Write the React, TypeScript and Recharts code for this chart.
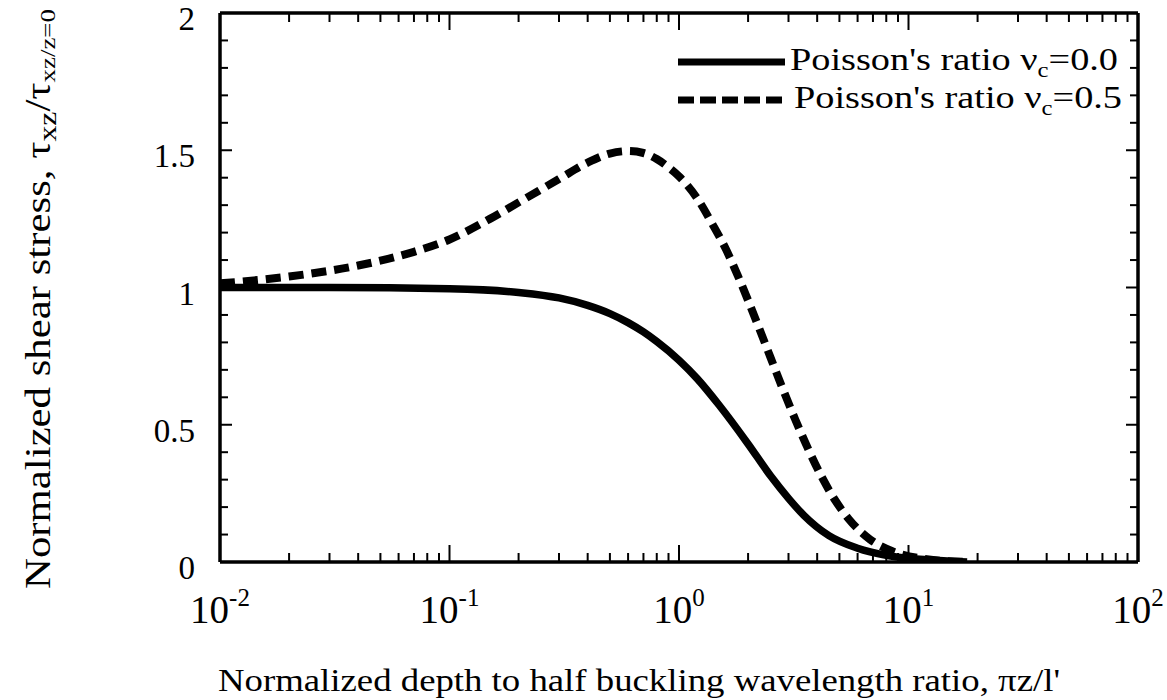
import React from "react";
import { LineChart, Line, XAxis, YAxis, Legend } from "recharts";

// nu_c = 0.0 (solid)
const solidX = [0.01, 0.03, 0.1, 0.2, 0.3, 0.4, 0.5, 0.6, 0.7, 0.8, 1.0, 1.2, 1.5, 2.0, 2.5, 3.0, 3.5, 4.5, 6.0, 8.0, 12, 18];
const solidY = [1.0, 1.0, 0.995, 0.982, 0.962, 0.935, 0.905, 0.872, 0.838, 0.803, 0.735, 0.668, 0.57, 0.43, 0.315, 0.232, 0.17, 0.096, 0.05, 0.024, 0.008, 0.0];

// nu_c = 0.5 (dashed)
const dashX = [0.01, 0.02, 0.04, 0.07, 0.1, 0.15, 0.2, 0.3, 0.4, 0.5, 0.6, 0.7, 0.8, 0.9, 1.0, 1.2, 1.4, 1.6, 1.8, 2.0, 2.2, 2.5, 2.8, 3.2, 3.7, 4.2, 4.8, 5.5, 6.8, 8.4, 12, 18];
const dashY = [1.015, 1.04, 1.08, 1.13, 1.175, 1.25, 1.31, 1.395, 1.455, 1.488, 1.497, 1.49, 1.468, 1.438, 1.405, 1.325, 1.23, 1.14, 1.045, 0.953, 0.866, 0.747, 0.641, 0.522, 0.402, 0.308, 0.224, 0.156, 0.082, 0.041, 0.01, 0.0];

const decades = [0.01, 0.1, 1, 10, 100];
const decadeLabels = ["-2", "-1", "0", "1", "2"];
const minorSteps = [2, 3, 4, 5, 6, 7, 8, 9];

const yTicks = [0, 0.1, 0.2, 0.3, 0.4, 0.5, 0.6, 0.7, 0.8, 0.9, 1, 1.1, 1.2, 1.3, 1.4, 1.5, 1.6, 1.7, 1.8, 1.9, 2];
const yMajor = [0, 0.5, 1, 1.5, 2];
const yLabels = ["0", "0.5", "1", "1.5", "2"];

const legendValues = ["0.0", "0.5"];
const legendDashes = [undefined, "16 6"];

const solidData = solidX.map((x, i) => ({ x, y: solidY[i] }));
const dashData = dashX.map((x, i) => ({ x, y: dashY[i] }));
const xTicks = decades.flatMap((d, i) =>
  i < decades.length - 1 ? [d, ...minorSteps.map((m) => d * m)] : [d]
);

const FONT = "'Liberation Serif', 'Times New Roman', serif";

const decadeIndex = (v: number) =>
  decades.findIndex((d) => Math.abs(d - v) < d * 1e-6);
const yIndex = (v: number) => yMajor.findIndex((m) => Math.abs(m - v) < 1e-6);

const BottomTick = (props: any) => {
  const { x, y, payload } = props;
  const i = decadeIndex(payload.value);
  return (
    <g>
      <line x1={x} x2={x} y1={y} y2={y - (i >= 0 ? 17 : 9)} stroke="#000" strokeWidth={2} />
      {i >= 0 && (
        <text x={x} y={y + 61} textAnchor="middle" fontFamily={FONT} fontSize={39} fill="#000">
          10
          <tspan dy={-17} fontSize={25}>
            {decadeLabels[i]}
          </tspan>
        </text>
      )}
    </g>
  );
};

const TopTick = (props: any) => {
  const { x, y, payload } = props;
  const i = decadeIndex(payload.value);
  return <line x1={x} x2={x} y1={y} y2={y + (i >= 0 ? 17 : 9)} stroke="#000" strokeWidth={2} />;
};

const LeftTick = (props: any) => {
  const { x, y, payload } = props;
  const i = yIndex(payload.value);
  return (
    <g>
      <line x1={x} x2={x + (i >= 0 ? 12 : 8)} y1={y} y2={y} stroke="#000" strokeWidth={2} />
      {i >= 0 && (
        <text x={x - 25} y={y + 17} textAnchor="end" fontFamily={FONT} fontSize={33} fill="#000">
          {yLabels[i]}
        </text>
      )}
    </g>
  );
};

const RightTick = (props: any) => {
  const { x, y, payload } = props;
  const i = yIndex(payload.value);
  return <line x1={x} x2={x - (i >= 0 ? 12 : 8)} y1={y} y2={y} stroke="#000" strokeWidth={2} />;
};

const renderLegend = () => (
  <svg width={480} height={90}>
    {legendValues.map((v, i) => {
      const ly = 27 + i * 38;
      return (
        <g key={v}>
          <line x1={8} x2={115} y1={ly} y2={ly} stroke="#000" strokeWidth={7} strokeDasharray={legendDashes[i]} />
          <text
            x={120 + i * 4}
            y={ly + 8}
            fontFamily={FONT}
            fontSize={31}
            fill="#000"
            textLength={328}
            lengthAdjust="spacingAndGlyphs"
          >
            Poisson's ratio ν
            <tspan dy={7} fontSize={20}>c</tspan>
            <tspan dy={-7}>={v}</tspan>
          </text>
        </g>
      );
    })}
  </svg>
);

const axisLine = { stroke: "#000", strokeWidth: 3.5 };

export default function App() {
  return (
    <div style={{ position: "absolute", left: 0, top: 0, background: "#fff" }}>
      <LineChart width={1167} height={700} margin={{ top: 0, right: 0, bottom: 0, left: 0 }}>
        <XAxis
          dataKey="x"
          type="number"
          scale="log"
          domain={[0.01, 100]}
          allowDataOverflow
          ticks={xTicks}
          interval={0}
          height={138}
          tickSize={0}
          tickMargin={0}
          tickLine={false}
          axisLine={axisLine}
          tick={<BottomTick />}
        />
        <XAxis
          xAxisId="top"
          orientation="top"
          dataKey="x"
          type="number"
          scale="log"
          domain={[0.01, 100]}
          allowDataOverflow
          ticks={xTicks}
          interval={0}
          height={13}
          tickSize={0}
          tickMargin={0}
          tickLine={false}
          axisLine={axisLine}
          tick={<TopTick />}
        />
        <YAxis
          type="number"
          domain={[0, 2]}
          allowDataOverflow
          ticks={yTicks}
          interval={0}
          width={220}
          tickSize={0}
          tickMargin={0}
          tickLine={false}
          axisLine={axisLine}
          tick={<LeftTick />}
        />
        <YAxis
          yAxisId="right"
          orientation="right"
          type="number"
          domain={[0, 2]}
          allowDataOverflow
          ticks={yTicks}
          interval={0}
          width={29}
          tickSize={0}
          tickMargin={0}
          tickLine={false}
          axisLine={axisLine}
          tick={<RightTick />}
        />
        <Legend
          layout="horizontal"
          verticalAlign="middle"
          align="center"
          content={renderLegend}
          wrapperStyle={{ top: 35, left: 670, width: 480, height: 90 }}
        />
        <Line
          data={solidData}
          dataKey="y"
          type="monotone"
          stroke="#000"
          strokeWidth={7.5}
          dot={false}
          isAnimationActive={false}
        />
        <Line
          data={dashData}
          dataKey="y"
          type="monotone"
          stroke="#000"
          strokeWidth={8}
          strokeDasharray="15 8"
          dot={false}
          isAnimationActive={false}
        />
        <text
          x={38}
          y={299}
          transform="rotate(-90, 38, 299)"
          textAnchor="middle"
          dominantBaseline="central"
          fontFamily={FONT}
          fontSize={35}
          fill="#000"
          textLength={580}
          lengthAdjust="spacingAndGlyphs"
        >
          Normalized shear stress,  τ
          <tspan dy={9} fontSize={26}>xz</tspan>
          <tspan dy={-9}>/τ</tspan>
          <tspan dy={9} fontSize={22}>xz/z=0</tspan>
        </text>
        <text
          x={639}
          y={691}
          textAnchor="middle"
          fontFamily={FONT}
          fontSize={32}
          fill="#000"
          textLength={842}
          lengthAdjust="spacingAndGlyphs"
        >
          Normalized depth to half buckling wavelength ratio, πz/l'
        </text>
      </LineChart>
    </div>
  );
}
